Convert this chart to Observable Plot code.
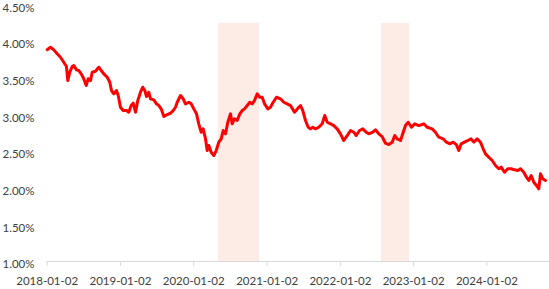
<!DOCTYPE html>
<html><head><meta charset="utf-8">
<script src="https://cdn.jsdelivr.net/npm/d3@7"></script>
<script src="https://cdn.jsdelivr.net/npm/@observablehq/plot@0.6"></script>
<style>html,body{margin:0;padding:0;background:#fff;} svg{display:block;}</style>
</head><body><div id="chart"></div>
<script>
// time in decimal years, yield in %
const times = [2018.000,2018.045,2018.090,2018.136,2018.181,2018.226,2018.263,2018.281,2018.308,2018.341,
2018.363,2018.400,2018.431,2018.464,2018.499,2018.532,2018.559,2018.591,2018.614,2018.659,
2018.704,2018.737,2018.772,2018.819,2018.854,2018.877,2018.909,2018.945,2018.969,2019.000,
2019.037,2019.082,2019.113,2019.146,2019.173,2019.205,2019.236,2019.273,2019.304,2019.332,
2019.355,2019.386,2019.409,2019.454,2019.491,2019.523,2019.555,2019.591,2019.637,2019.682,
2019.719,2019.750,2019.774,2019.819,2019.855,2019.887,2019.932,2019.965,2020.000,2020.037,
2020.068,2020.101,2020.128,2020.160,2020.183,2020.205,2020.237,2020.273,2020.306,2020.341,
2020.374,2020.401,2020.433,2020.464,2020.501,2020.524,2020.555,2020.592,2020.628,2020.660,
2020.692,2020.729,2020.764,2020.797,2020.828,2020.865,2020.900,2020.933,2020.965,2021.010,
2021.046,2021.083,2021.128,2021.183,2021.228,2021.274,2021.319,2021.374,2021.432,2021.456,
2021.487,2021.524,2021.561,2021.592,2021.623,2021.660,2021.705,2021.752,2021.787,2021.820,
2021.865,2021.910,2021.956,2022.001,2022.046,2022.093,2022.138,2022.183,2022.216,2022.261,
2022.306,2022.352,2022.388,2022.442,2022.479,2022.524,2022.570,2022.615,2022.660,2022.707,
2022.742,2022.775,2022.820,2022.851,2022.888,2022.925,2022.970,2023.015,2023.070,2023.138,
2023.184,2023.252,2023.297,2023.342,2023.402,2023.447,2023.493,2023.539,2023.584,2023.615,
2023.648,2023.693,2023.738,2023.784,2023.820,2023.866,2023.911,2023.948,2023.980,2024.025,
2024.071,2024.116,2024.161,2024.194,2024.239,2024.284,2024.330,2024.375,2024.420,2024.457,
2024.502,2024.539,2024.570,2024.603,2024.639,2024.675,2024.707,2024.730,2024.761,2024.798];
const yields = [3.89,3.924,3.888,3.834,3.787,3.719,3.660,3.469,3.583,3.660,
3.674,3.615,3.606,3.561,3.493,3.401,3.493,3.469,3.583,3.596,
3.651,3.606,3.561,3.514,3.446,3.333,3.288,3.333,3.265,3.105,
3.060,3.060,3.037,3.128,3.160,3.037,3.196,3.310,3.378,3.333,
3.251,3.310,3.220,3.206,3.151,3.128,3.083,2.978,3.005,3.023,
3.060,3.105,3.173,3.265,3.220,3.151,3.173,3.151,3.083,3.015,
2.879,2.764,2.810,2.674,2.514,2.583,2.491,2.446,2.514,2.628,
2.674,2.787,2.742,2.900,3.015,2.879,2.947,2.924,3.015,3.060,
3.083,3.128,3.173,3.151,3.196,3.288,3.241,3.241,3.151,3.083,
3.105,3.173,3.241,3.220,3.173,3.151,3.128,3.037,3.105,3.128,
3.060,2.924,2.832,2.810,2.832,2.810,2.832,2.879,2.992,2.900,
2.879,2.855,2.810,2.742,2.651,2.719,2.787,2.764,2.719,2.787,
2.810,2.764,2.742,2.764,2.797,2.742,2.705,2.614,2.596,2.628,
2.719,2.674,2.651,2.742,2.855,2.900,2.832,2.879,2.855,2.879,
2.832,2.810,2.764,2.696,2.674,2.628,2.606,2.628,2.592,2.514,
2.606,2.628,2.651,2.674,2.628,2.674,2.628,2.538,2.469,2.423,
2.378,2.310,2.265,2.287,2.218,2.265,2.265,2.251,2.241,2.265,
2.218,2.150,2.105,2.173,2.082,2.037,1.992,2.196,2.128,2.105];

// shaded periods (decimal years) and their top value
const shadeStarts = [2020.337, 2022.561];
const shadeEnds   = [2020.896, 2022.943];
const shadeTop = 4.25;

const yTicks = [1.0, 1.5, 2.0, 2.5, 3.0, 3.5, 4.0, 4.5];
const xTickLabels = ["2018-01-02","2019-01-02","2020-01-02","2021-01-02","2022-01-02","2023-01-02","2024-01-02"];

const origin = Date.UTC(2018, 0, 2);
const toDate = t => new Date(origin + (t - 2018) * 365.25 * 86400000);
const parse = d3.utcParse("%Y-%m-%d");

const series = times.map((t, i) => ({date: toDate(t), v: yields[i]}));
const shades = shadeStarts.map((s, i) => ({x1: toDate(s), x2: toDate(shadeEnds[i]), y1: 1.0, y2: shadeTop}));
const xTicks = xTickLabels.map(parse);

const font = "Lato, 'Open Sans', sans-serif";
const chart = Plot.plot({
  width: 549,
  height: 289,
  marginLeft: 46.7,
  marginRight: 0,
  marginTop: 4.5,
  marginBottom: 28,
  style: {fontFamily: font, fontSize: "11.5px", color: "#404040", background: "#fff"},
  x: {type: "utc", domain: [toDate(2018.0), toDate(2024.853)]},
  y: {domain: [1.0, 4.5]},
  marks: [
    Plot.rectY(shades, {x1: "x1", x2: "x2", y1: "y1", y2: "y2", fill: "#fdebe5"}),
    Plot.ruleY([1.0], {stroke: "#d9d9d9", strokeWidth: 1}),
    Plot.axisX({ticks: xTicks, tickFormat: d3.utcFormat("%Y-%m-%d"), tickSize: 5, tickPadding: 10,
      stroke: "#d9d9d9", fill: "#404040", label: null}),
    Plot.axisY({ticks: yTicks, tickFormat: d => d.toFixed(2) + "%", tickSize: 0, tickPadding: 3,
      textAnchor: "start", dx: -41.7, dy: 3, fill: "#404040", label: null}),
    Plot.line(series, {x: "date", y: "v", stroke: "#ff0000", strokeWidth: 3, strokeLinejoin: "round", strokeLinecap: "round"})
  ]
});
document.getElementById("chart").appendChild(chart);
</script>
</body></html>
